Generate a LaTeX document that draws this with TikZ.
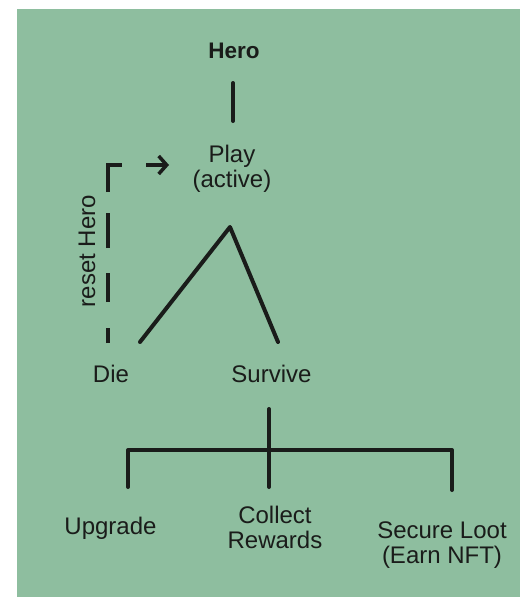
\documentclass[tikz,border=0pt]{standalone}
\usepackage{fontspec}
\setmainfont{Liberation Sans}
\usetikzlibrary{arrows.meta}
\definecolor{bggreen}{RGB}{142,190,159}
\definecolor{ink}{RGB}{26,28,26}
\tikzset{
  lbl/.style={inner sep=0pt, anchor=base, align=center, text=ink,
    font=\fontsize{24}{25}\selectfont},
  herolbl/.style={lbl, font=\fontsize{22.5}{25}\selectfont\bfseries},
  link/.style={draw=ink, line width=4pt, line cap=round, line join=round},
  resetlink/.style={draw=ink, line width=4pt,
    dash pattern=on 15pt off 26pt on 29pt off 25pt on 35pt off 21pt on 41pt off 24pt on 23pt,
    -{Straight Barb[length=8pt,width=18pt,line width=3.5pt]}}
}
\begin{document}
\begin{tikzpicture}[x=1pt,y=-1pt]
\useasboundingbox (0,0) rectangle (525,597);
\fill[bggreen] (17,9) rectangle (520,597);
% nodes (base of a multi-line node = baseline of its last line)
\node[herolbl] (hero) at (234,58) {Hero};
\node[lbl] (play) at (232,187) {Play\\(active)};
\node[lbl] (die) at (111,382) {Die};
\node[lbl] (survive) at (271.5,382) {Survive};
\node[lbl] (upgrade) at (110.5,534) {Upgrade};
\node[lbl] (collect) at (275,548) {Collect\\Rewards};
\node[lbl] (secure) at (442,563) {Secure Loot\\(Earn NFT)};
\node[lbl, rotate=90] (resetlbl) at (95,251) {reset Hero};
% connector ends
\coordinate (heroS) at (233,83);
\coordinate (playN) at (233,121);
\coordinate (apex) at (230,227);
\coordinate (dieN) at (140,342);
\coordinate (survN) at (278,342);
\coordinate (dieUp) at (108,343);
\coordinate (corner) at (108,165);
\coordinate (playW) at (169,165);
\coordinate (survS) at (269,409);
\coordinate (hub) at (269,450);
\coordinate (bl) at (128,450);
\coordinate (br) at (452,450);
\coordinate (upN) at (128,487);
\coordinate (colN) at (269,487);
\coordinate (secN) at (452,490);
% connectors
\draw[link] (heroS) -- (playN);
\draw[link] (dieN) -- (apex) -- (survN);
\draw[resetlink] (dieUp) -- (corner) -- (playW);
\draw[link] (survS) -- (colN);
\draw[link] (upN) -- (bl) -- (br) -- (secN);
\end{tikzpicture}
\end{document}
